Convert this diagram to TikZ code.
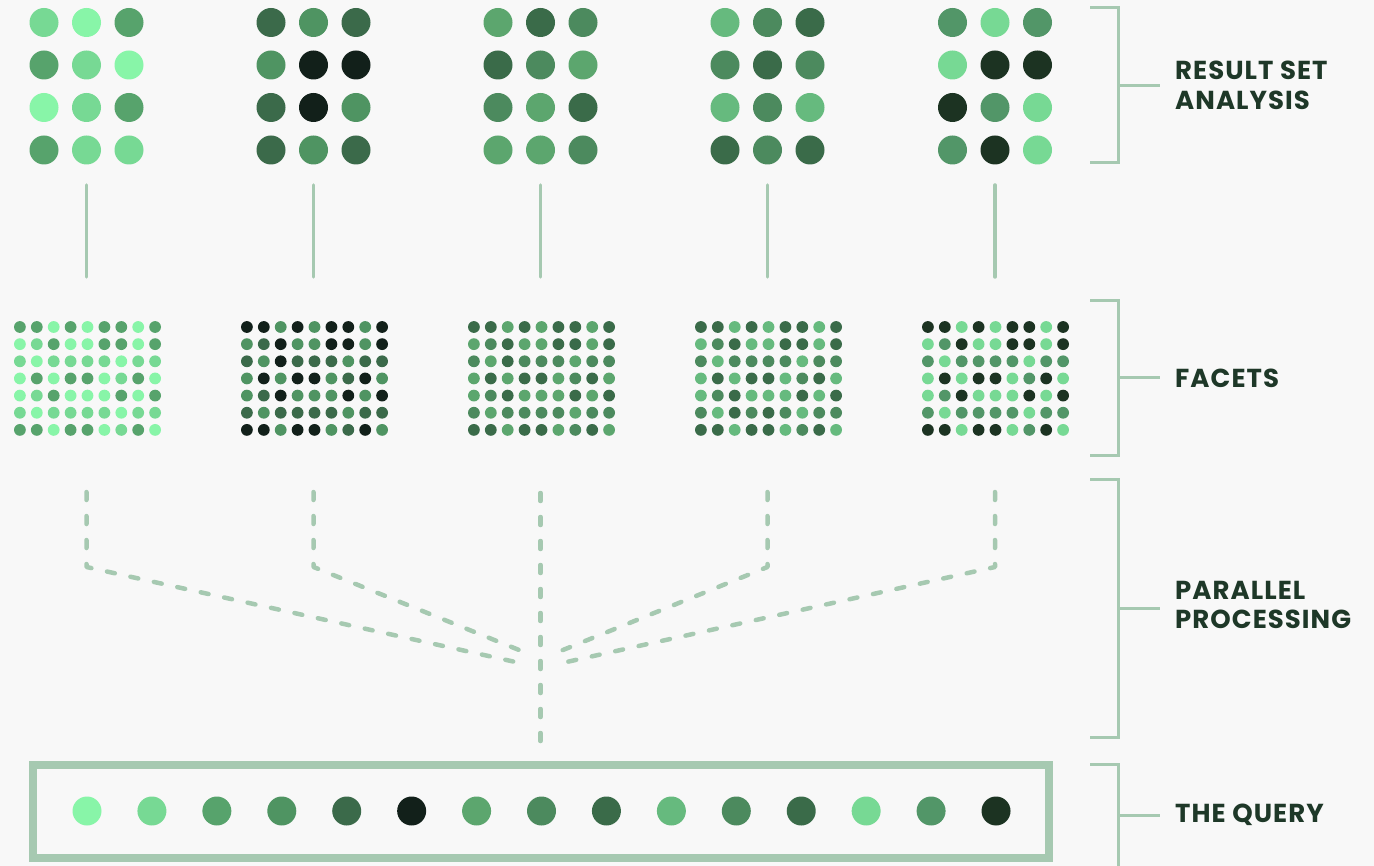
\documentclass[tikz,border=0pt]{standalone}
\usepackage{fontspec}
\setmainfont{Poppins}
\newfontfamily\tagfont{Poppins}[LetterSpace=4.0]
\usepackage{tikz}
\usetikzlibrary{calc}
\usepackage{xcolor}

\definecolor{paper}{HTML}{F8F8F8}
\definecolor{wire}{HTML}{A6C9B1}
\definecolor{ink}{HTML}{1E3828}
% one palette of three greens per column (light, mid, dark)
\definecolor{g11}{HTML}{88F5A8}\definecolor{g12}{HTML}{77D994}\definecolor{g13}{HTML}{57A36C}
\definecolor{g21}{HTML}{4F9462}\definecolor{g22}{HTML}{3B6A4A}\definecolor{g23}{HTML}{12201A}
\definecolor{g31}{HTML}{5CA66E}\definecolor{g32}{HTML}{4C8A5E}\definecolor{g33}{HTML}{3A6B49}
\definecolor{g41}{HTML}{66BA7E}\definecolor{g42}{HTML}{4C8A5E}\definecolor{g43}{HTML}{3A6B49}
\definecolor{g51}{HTML}{77D994}\definecolor{g52}{HTML}{529668}\definecolor{g53}{HTML}{1C3322}

\begin{document}
\begin{tikzpicture}[x=1pt,y=-1pt,
        bracket/.style={draw=wire,line width=3pt},
        link/.style={draw=wire,line width=3.5pt,line cap=round},
        flow/.style={draw=wire,line width=4.5pt,line cap=round,line join=round,dash pattern=on 8pt off 16pt},
        tag/.style={anchor=west,inner sep=0pt,align=left,text=ink,
            font=\tagfont\fontsize{26}{29.5}\selectfont\bfseries}]
    % --- canvas: pixel grid of the reference, y pointing down ---
    \fill[paper] (0,0) rectangle (1374,866);
    \useasboundingbox (0,0) rectangle (1374,866);

    % --- result set analysis: 3 x 4 dots per column ---
    \foreach \g/\cx/\rows in {
            1/86.5/{{2,1,3},{3,2,1},{1,2,3},{3,2,2}},
            2/313.5/{{2,1,2},{1,3,3},{2,3,1},{2,1,2}},
            3/540.5/{{1,3,2},{3,2,1},{2,1,3},{1,1,2}},
            4/767.5/{{1,2,3},{2,3,2},{1,2,1},{3,2,3}},
            5/995/{{2,1,2},{1,3,3},{3,2,1},{2,3,1}}}{
        \foreach \row [count=\r] in \rows
            \foreach \lv [count=\c] in \row
                \fill[g\g\lv] ({\cx+(\c-2)*42.5},{22.5+(\r-1)*42.5}) circle (14.5pt);
    }

    % --- facets: 9 x 7 small dots per column ---
    \foreach \g/\cx/\rows in {
            1/87.5/{{3,3,1,3,1,3,3,1,3},{1,2,3,1,1,3,3,1,3},{2,1,2,2,2,2,1,2,2},{1,3,1,3,3,1,2,3,1},
                    {1,2,3,1,1,1,3,1,3},{2,1,2,2,2,2,1,2,2},{3,3,1,3,3,1,2,3,1}},
            2/314.5/{{3,3,1,3,1,3,3,1,3},{1,2,3,1,1,3,3,1,3},{2,1,3,2,2,2,1,2,2},{1,3,1,3,3,1,2,3,1},
                    {1,2,3,1,1,1,3,1,3},{2,1,2,2,2,2,1,2,2},{3,3,1,3,3,1,2,3,1}},
            3/541.5/{{3,3,1,3,1,3,3,1,3},{1,2,3,1,1,3,3,1,3},{2,1,3,2,2,2,1,2,2},{1,3,1,3,3,1,2,3,1},
                    {1,2,3,1,1,1,3,1,3},{2,1,2,2,2,2,1,2,2},{3,3,1,3,3,1,2,3,1}},
            4/768.5/{{3,3,1,3,1,3,3,1,3},{1,2,3,1,1,3,3,1,3},{2,1,2,2,2,2,1,2,2},{1,3,1,3,3,1,2,3,1},
                    {1,2,3,1,1,1,3,1,3},{2,1,3,2,3,2,1,2,2},{3,3,1,3,3,1,2,3,1}},
            5/995.5/{{3,3,1,3,1,3,3,1,3},{1,2,3,1,1,3,3,1,3},{2,1,2,2,2,2,1,2,2},{1,3,1,3,3,1,2,3,1},
                    {1,2,3,1,1,1,3,1,3},{2,1,2,2,2,2,1,2,2},{3,3,1,3,3,1,2,3,1}}}{
        \foreach \row [count=\r] in \rows
            \foreach \lv [count=\c] in \row
                \fill[g\g\lv] ({\cx+(\c-5)*16.9},{327+(\r-1)*17.15}) circle (5.9pt);
    }

    % --- solid links between result sets and facets ---
    \foreach \i/\cx in {1/86.5,2/313.5,3/540.5,4/767.5,5/995}{
        \coordinate (rsa\i) at (\cx,185);
        \coordinate (fac\i) at (\cx,277);
        \draw[link] (rsa\i) -- (fac\i);
    }

    % --- parallel processing: dashed fan from the query ---
    \foreach \i/\cx/\ex/\ey in {1/86.5/520/663,2/313.5/524/652,4/767.5/558/652,5/995/562/663}{
        \coordinate (par\i) at (\cx,492);
        \coordinate (bend\i) at (\cx,567);
        \coordinate (merge\i) at (\ex,\ey);
        \draw[flow] (par\i) -- (bend\i) -- (merge\i);
    }
    \coordinate (par3) at (540.5,493);
    \coordinate (qin) at (540.5,747);
    \draw[flow] (par3) -- (qin);

    % --- the query: boxed row of 15 dots ---
    \node[draw=wire,line width=8pt,minimum width=1016pt,minimum height=93.5pt,inner sep=0pt]
        (query) at (541,811.25) {};
    \foreach \col [count=\k] in {g11,g12,g13,g21,g22,g23,g31,g32,g33,g41,g42,g43,g51,g52,g53}
        \fill[\col] ({87+(\k-1)*64.93},811) circle (14.5pt);

    % --- brackets and labels on the right ---
    \draw[bracket] (1090,8) -- (1118,8) -- (1118,163) -- (1090,163);
    \draw[bracket] (1090,301) -- (1118,301) -- (1118,456) -- (1090,456);
    \draw[bracket] (1090,479) -- (1118,479) -- (1118,737) -- (1090,737);
    \draw[bracket] (1090,764) -- (1118,764) -- (1118,870);
    \node[tag] (rsa) at (1175,85.5) {RESULT SET\\ANALYSIS};
    \node[tag] (facets) at (1175,378) {FACETS};
    \node[tag] (parallel) at (1175,605) {PARALLEL\\PROCESSING};
    \node[tag] (thequery) at (1175,815) {THE QUERY};
    \draw[bracket] (1118,86) -- (1160,86);
    \draw[bracket] (1118,378) -- (1160,378);
    \draw[bracket] (1118,608) -- (1160,608);
    \draw[bracket] (1118,815) -- (1160,815);
\end{tikzpicture}
\end{document}
